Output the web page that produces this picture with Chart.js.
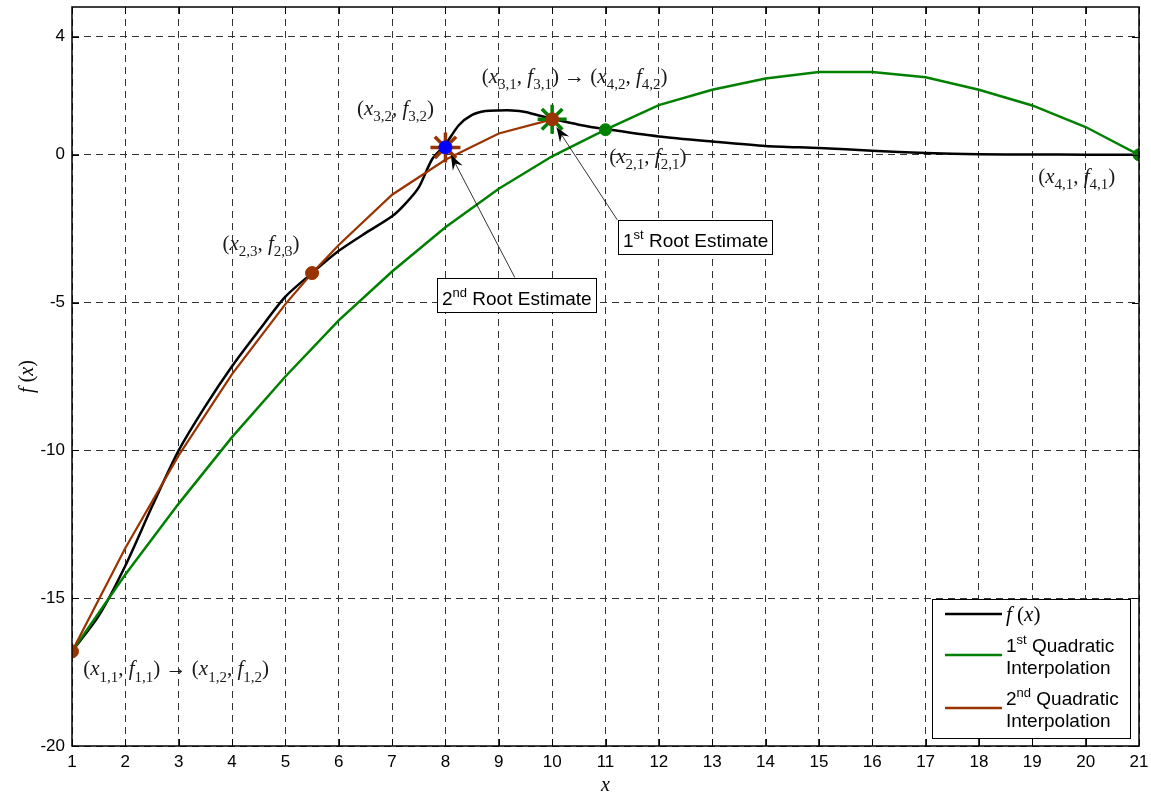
<!DOCTYPE html>
<html><head><meta charset="utf-8">
<script src="https://cdn.jsdelivr.net/npm/chart.js@4"></script>
<style>html,body{margin:0;padding:0;background:#fff}#wrap{width:1151px;height:794px}canvas{display:block}</style>
</head><body><div id="wrap"><canvas id="c" width="1151" height="794"></canvas></div>
<script>
// ---- data ----
const fxX = [1,1.5,2,2.5,3,3.5,4,4.5,5,5.5,6,6.5,7,7.25,7.5,7.75,8,8.25,8.5,8.75,9,9.25,9.5,9.75,10,10.5,11,12,13,14,15,16,17,18,19,20,21];
const fxY = [-16.8,-15.6,-13.9,-11.9,-10.0,-8.5,-7.15,-5.95,-4.8,-4.0,-3.25,-2.65,-2.08,-1.65,-1.1,-0.15,0.35,1.0,1.35,1.48,1.5,1.5,1.45,1.33,1.22,1.02,0.87,0.62,0.45,0.30,0.23,0.14,0.06,0.02,0.01,0.005,0];
const q1X = [1,2,3,4,5,6,7,8,9,10,11,12,13,14,15,16,17,18,19,20,21];
const q1Y = [-16.8,-14.2,-11.8,-9.55,-7.5,-5.6,-3.95,-2.45,-1.15,-0.05,0.85,1.68,2.2,2.58,2.8,2.8,2.62,2.2,1.67,0.94,0];
const q2X = [1,2,3,4,5,5.5,6,7,8,9,10];
const q2Y = [-16.8,-13.3,-10.17,-7.42,-5.05,-4.0,-3.05,-1.35,-0.17,0.72,1.2];
const brownPtX = [1,5.5,10];
const brownPtY = [-16.8,-4.0,1.2];
const greenPtX = [11,21];
const greenPtY = [0.85,0];
const root1 = [10,1.2];
const root2 = [8,0.25];
const yTicks = [-20,-15,-10,-5,0,4];
const xMin = 1, xMax = 21, yMin = -20, yMax = 5;
const pointLabels = [
  [6.34, 1.35, '(x_{3,2}, f_{3,2})'],
  [8.68, 2.43, '(x_{3,1}, f_{3,1}) \u2192 (x_{4,2}, f_{4,2})'],
  [11.07, -0.28, '(x_{2,1}, f_{2,1})'],
  [19.11, -0.96, '(x_{4,1}, f_{4,1})'],
  [3.82, -3.22, '(x_{2,3}, f_{2,3})'],
  [1.21, -17.61, '(x_{1,1}, f_{1,1}) \u2192 (x_{1,2}, f_{1,2})']
];
// [boxLeftX, boxTopY, tailX, tailY, tipX, tipY, text]
const rootNotes = [
  [11.23, -2.19, 11.22, -2.2, 10.08, 0.94, '1^{st} Root Estimate'],
  [7.84, -4.17, 9.30, -4.15, 8.10, 0.0, '2^{nd} Root Estimate']
];
const legendItems = [
  ['f (x)', '#000000', true],
  ['1^{st} Quadratic|Interpolation', '#008000', false],
  ['2^{nd} Quadratic|Interpolation', '#993300', false]
];

const GREEN = '#008000', BROWN = '#993300', BLUE = '#0000ff';
const SANS = '"Liberation Sans", Arial, sans-serif';
const SERIF = '"Liberation Serif", "Times New Roman", serif';
const pts = (xs, ys) => xs.map((x, i) => ({x, y: ys[i]}));

function rich(ctx, str, x, y, o) {
  const runs = [];
  let i = 0;
  while (i < str.length) {
    const ch = str[i];
    if ((ch === '_' || ch === '^') && str[i+1] === '{') {
      const j = str.indexOf('}', i);
      runs.push({t: str.slice(i+2, j), k: ch === '_' ? 'sub' : 'sup'});
      i = j + 1; continue;
    }
    const k = (o.italicLetters && /[a-z]/.test(ch)) ? 'it' : 'rm';
    if (runs.length && runs[runs.length-1].k === k) runs[runs.length-1].t += ch;
    else runs.push({t: ch, k});
    i++;
  }
  const fs = o.size, ss = o.subSize || Math.round(fs * 0.7);
  const font = r => (r.k === 'it' ? 'italic ' : '') + ((r.k === 'sub' || r.k === 'sup') ? ss : fs) + 'px ' + o.family;
  let w = 0;
  runs.forEach(r => { ctx.font = font(r); r.w = ctx.measureText(r.t).width; w += r.w; });
  if (o.measure) return w;
  let cx = o.align === 'center' ? x - w/2 : (o.align === 'right' ? x - w : x);
  ctx.fillStyle = o.color || '#000';
  ctx.textBaseline = o.baseline || 'alphabetic'; ctx.textAlign = 'left';
  runs.forEach(r => {
    ctx.font = font(r);
    const dy = r.k === 'sub' ? fs * 0.3 : (r.k === 'sup' ? -fs * 0.4 : 0);
    ctx.fillText(r.t, cx, y + dy);
    cx += r.w;
  });
  return w;
}

function arrow(ctx, x1, y1, x2, y2) {
  ctx.save();
  ctx.strokeStyle = '#000'; ctx.fillStyle = '#000'; ctx.lineWidth = 0.8;
  const a = Math.atan2(y2 - y1, x2 - x1);
  const L = 15, W = 5.5;
  const bx = x2 - L * Math.cos(a), by = y2 - L * Math.sin(a);
  const nx = x2 - L * 0.65 * Math.cos(a), ny = y2 - L * 0.65 * Math.sin(a);
  ctx.beginPath(); ctx.moveTo(x1, y1); ctx.lineTo(nx, ny); ctx.stroke();
  ctx.beginPath();
  ctx.moveTo(x2, y2);
  ctx.lineTo(bx + W * Math.sin(a), by - W * Math.cos(a));
  ctx.lineTo(nx, ny);
  ctx.lineTo(bx - W * Math.sin(a), by + W * Math.cos(a));
  ctx.closePath(); ctx.fill();
  ctx.restore();
}

const decor = {
  id: 'decor',
  afterDatasetsDraw(chart) {
    const ctx = chart.ctx, xs = chart.scales.x, ys = chart.scales.y, a = chart.chartArea;
    ctx.save();
    // frame
    ctx.strokeStyle = '#000'; ctx.lineWidth = 1.5;
    ctx.strokeRect(Math.round(a.left), Math.round(a.top), Math.round(a.right - a.left), Math.round(a.bottom - a.top));
    // inward ticks
    ctx.lineWidth = 1;
    ctx.beginPath();
    xs.ticks.forEach(t => {
      const px = Math.round(xs.getPixelForValue(t.value)) + 0.5;
      ctx.moveTo(px, a.bottom); ctx.lineTo(px, a.bottom - 7);
      ctx.moveTo(px, a.top); ctx.lineTo(px, a.top + 7);
    });
    ys.ticks.forEach(t => {
      const py = Math.round(ys.getPixelForValue(t.value)) + 0.5;
      ctx.moveTo(a.left, py); ctx.lineTo(a.left + 7, py);
      ctx.moveTo(a.right, py); ctx.lineTo(a.right - 7, py);
    });
    ctx.stroke();
    // tick labels (from the library's scale ticks)
    ctx.fillStyle = '#000';
    ctx.font = '17px ' + SANS;
    ctx.textAlign = 'center'; ctx.textBaseline = 'middle';
    xs.ticks.forEach(t => ctx.fillText(String(t.value), xs.getPixelForValue(t.value), a.bottom + 16));
    ctx.textAlign = 'right';
    ys.ticks.forEach(t => ctx.fillText(String(t.value), a.left - 7, ys.getPixelForValue(t.value)));
    // point labels
    pointLabels.forEach(([x, y, t]) => {
      rich(ctx, t, xs.getPixelForValue(x), ys.getPixelForValue(y), {family: SERIF, size: 21, subSize: 15, italicLetters: true, color: '#1a1a1a'});
    });
    // root notes
    rootNotes.forEach(([bl, bt, tx, ty, hx, hy, t]) => {
      arrow(ctx, xs.getPixelForValue(tx), ys.getPixelForValue(ty), xs.getPixelForValue(hx), ys.getPixelForValue(hy));
      const left = Math.round(xs.getPixelForValue(bl)) + 0.5, top = Math.round(ys.getPixelForValue(bt)) + 0.5;
      const w = rich(ctx, t, 0, 0, {family: SANS, size: 19, subSize: 13, measure: true});
      const bw = Math.round(w + 9), bh = 34;
      ctx.fillStyle = '#fff'; ctx.fillRect(left, top, bw, bh);
      ctx.strokeStyle = '#000'; ctx.lineWidth = 1; ctx.strokeRect(left, top, bw, bh);
      rich(ctx, t, left + 4.5, top + 26, {family: SANS, size: 19, subSize: 13, color: '#000'});
    });
    // legend
    const L = {x: 932.5, y: 599.5, w: 198, h: 139};
    ctx.fillStyle = '#fff'; ctx.fillRect(L.x, L.y, L.w, L.h);
    ctx.strokeStyle = '#000'; ctx.lineWidth = 1; ctx.strokeRect(L.x, L.y, L.w, L.h);
    const lineY = [614, 655, 708];
    legendItems.forEach(([t, col, serif], i) => {
      ctx.strokeStyle = col; ctx.lineWidth = 2.5;
      ctx.beginPath(); ctx.moveTo(945, lineY[i]); ctx.lineTo(1002, lineY[i]); ctx.stroke();
      if (serif) {
        rich(ctx, t, 1006, lineY[i] + 7, {family: SERIF, size: 21, italicLetters: true, color: '#000'});
      } else {
        const parts = t.split('|');
        rich(ctx, parts[0], 1006, lineY[i] - 3, {family: SANS, size: 19, subSize: 13, color: '#000'});
        rich(ctx, parts[1], 1006, lineY[i] + 19, {family: SANS, size: 19, color: '#000'});
      }
    });
    // axis titles
    rich(ctx, 'x', (a.left + a.right) / 2, 791, {family: SERIF, size: 20, italicLetters: true, align: 'center', color: '#000'});
    ctx.save();
    ctx.translate(33, (a.top + a.bottom) / 2);
    ctx.rotate(-Math.PI / 2);
    rich(ctx, 'f (x)', 0, 0, {family: SERIF, size: 20, italicLetters: true, align: 'center', color: '#000'});
    ctx.restore();
    ctx.restore();
  }
};

new Chart(document.getElementById('c'), {
  type: 'scatter',
  data: {
    datasets: [
      {label: 'root2 circle', data: pts([root2[0]], [root2[1]]), pointStyle: 'circle', pointRadius: 6.5, backgroundColor: BLUE, borderColor: BLUE, borderWidth: 1, showLine: false, order: 0},
      {label: 'brown pts', data: pts(brownPtX, brownPtY), pointStyle: 'circle', pointRadius: 6.5, backgroundColor: BROWN, borderColor: BROWN, borderWidth: 1, showLine: false, order: 1},
      {label: 'root2 star', data: pts([root2[0]], [root2[1]]), pointStyle: 'star', pointRadius: 15, backgroundColor: BROWN, borderColor: BROWN, borderWidth: 3.5, showLine: false, order: 2},
      {label: 'green pts', data: pts(greenPtX, greenPtY), pointStyle: 'circle', pointRadius: 6, backgroundColor: GREEN, borderColor: GREEN, borderWidth: 1, showLine: false, order: 3},
      {label: 'root1 star', data: pts([root1[0]], [root1[1]]), pointStyle: 'star', pointRadius: 14.5, backgroundColor: GREEN, borderColor: GREEN, borderWidth: 3.5, showLine: false, order: 4},
      {label: '2nd Quadratic Interpolation', data: pts(q2X, q2Y), showLine: true, borderColor: BROWN, borderWidth: 2.2, pointRadius: 0, tension: 0, order: 5},
      {label: '1st Quadratic Interpolation', data: pts(q1X, q1Y), showLine: true, borderColor: GREEN, borderWidth: 2.5, pointRadius: 0, tension: 0, order: 6},
      {label: 'f(x)', data: pts(fxX, fxY), showLine: true, borderColor: '#000', borderWidth: 2.5, pointRadius: 0, tension: 0.25, order: 7}
    ]
  },
  options: {
    responsive: false, animation: false, devicePixelRatio: 1,
    layout: {autoPadding: false, padding: {left: 0, top: 7, right: 12, bottom: 0}},
    plugins: {legend: {display: false}, tooltip: {enabled: false}},
    scales: {
      x: {
        type: 'linear', min: xMin, max: xMax,
        ticks: {stepSize: 1, display: false, padding: 0},
        grid: {color: '#333', lineWidth: 1, drawTicks: false},
        border: {display: false, dash: [7, 5]},
        afterFit(s) { s.height = 48; }
      },
      y: {
        type: 'linear', min: yMin, max: yMax,
        afterBuildTicks(s) { s.ticks = yTicks.map(v => ({value: v})); },
        ticks: {display: false, padding: 0},
        grid: {color: '#333', lineWidth: 1, drawTicks: false},
        border: {display: false, dash: [7, 5]},
        afterFit(s) { s.width = 72; }
      }
    }
  },
  plugins: [decor]
});
</script>
</body></html>
